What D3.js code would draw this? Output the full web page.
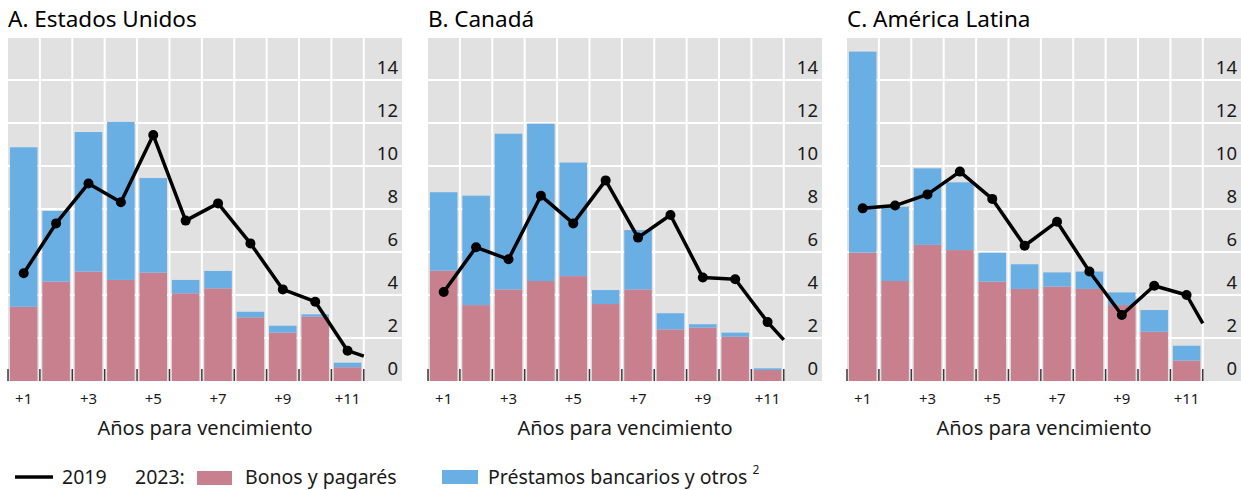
<!DOCTYPE html>
<html>
<head>
<meta charset="utf-8">
<script src="https://cdn.jsdelivr.net/npm/d3@7"></script>
<style>
  html, body { margin: 0; padding: 0; background: #ffffff; }
  svg { display: block; font-family: "Noto Sans", "Open Sans", sans-serif; }
</style>
</head>
<body>
<svg id="chart" width="1241" height="490"></svg>
<script>
// ---- Data ----
const categories = ["+1","+2","+3","+4","+5","+6","+7","+8","+9","+10","+11"];
const tickLabels = ["+1","+3","+5","+7","+9","+11"];
const yTicks = [0, 2, 4, 6, 8, 10, 12, 14];
const panelTitles = ["A. Estados Unidos", "B. Canadá", "C. América Latina"];
const xAxisTitle = "Años para vencimiento";

// 2023: Bonos y pagarés
const bondsUS = [3.45, 4.62, 5.09, 4.70, 5.04, 4.08, 4.31, 2.96, 2.25, 2.99, 0.64];
const bondsCA = [5.13, 3.53, 4.26, 4.65, 4.88, 3.58, 4.26, 2.40, 2.48, 2.06, 0.51];
const bondsLA = [5.97, 4.65, 6.33, 6.09, 4.62, 4.28, 4.39, 4.28, 3.53, 2.29, 0.95];
// 2023: Préstamos bancarios y otros (stacked on top of bonds)
const loansUS = [7.42, 3.29, 6.49, 7.35, 4.40, 0.62, 0.81, 0.26, 0.32, 0.11, 0.21];
const loansCA = [3.65, 5.09, 7.24, 7.32, 5.28, 0.65, 2.76, 0.75, 0.16, 0.19, 0.08];
const loansLA = [9.35, 3.46, 3.56, 3.15, 1.35, 1.15, 0.66, 0.81, 0.59, 1.01, 0.69];
// 2019 line (11 category points plus the end point half a step beyond +11)
const lineYears = [1, 2, 3, 4, 5, 6, 7, 8, 9, 10, 11, 11.5];
const line2019US = [5.01, 7.33, 9.19, 8.31, 11.44, 7.46, 8.26, 6.40, 4.26, 3.69, 1.41, 1.16];
const line2019CA = [4.14, 6.22, 5.66, 8.62, 7.33, 9.33, 6.67, 7.72, 4.81, 4.73, 2.74, 1.91];
const line2019LA = [8.03, 8.16, 8.68, 9.74, 8.47, 6.29, 7.41, 5.09, 3.07, 4.43, 4.00, 2.68];

const legendLabels = ["2019", "2023:", "Bonos y pagarés", "Préstamos bancarios y otros"];

// ---- Style ----
const colBonds = "#c8808f";
const colLoans = "#6aafe4";
const colBg = "#e1e1e1";

const panels = [
  { title: panelTitles[0], bonds: bondsUS, loans: loansUS, line: line2019US, left: 8 },
  { title: panelTitles[1], bonds: bondsCA, loans: loansCA, line: line2019CA, left: 428 },
  { title: panelTitles[2], bonds: bondsLA, loans: loansLA, line: line2019LA, left: 847 }
];

const plotW = 394, plotTop = 37, plotBottom = 381;
const step = 32.3;
const svg = d3.select("#chart");

panels.forEach(p => {
  const g = svg.append("g").attr("transform", `translate(${p.left},0)`);

  const x = d3.scaleBand().domain(categories)
    .range([0, step * categories.length]).paddingInner(0.15).paddingOuter(0.06);
  const y = d3.scaleLinear().domain([0, 16]).range([plotBottom, plotTop]);
  const xLin = d3.scaleLinear().domain([1, 11])
    .range([x(categories[0]) + x.bandwidth() / 2, x(categories[10]) + x.bandwidth() / 2]);

  // background
  g.append("rect").attr("x", 0).attr("y", plotTop)
    .attr("width", plotW).attr("height", plotBottom - plotTop).attr("fill", colBg);

  // horizontal grid
  g.selectAll("line.hg").data(yTicks.concat([16]).filter(v => v > 0)).enter().append("line")
    .attr("x1", 0).attr("x2", plotW)
    .attr("y1", d => y(d)).attr("y2", d => y(d))
    .attr("stroke", "#ffffff").attr("stroke-width", 2);

  // vertical grid at band boundaries
  const bounds = categories.map(c => x(c) - x.step() * x.paddingInner() / 2 + x.step());
  g.selectAll("line.vg").data(bounds).enter().append("line")
    .attr("x1", d => d).attr("x2", d => d)
    .attr("y1", plotTop).attr("y2", plotBottom)
    .attr("stroke", "#ffffff").attr("stroke-width", 2);

  // bars: bonds
  g.selectAll("rect.b").data(p.bonds).enter().append("rect")
    .attr("x", (d, i) => x(categories[i]))
    .attr("width", x.bandwidth())
    .attr("y", d => y(d))
    .attr("height", d => y(0) - y(d))
    .attr("fill", colBonds);
  // bars: loans stacked
  g.selectAll("rect.l").data(p.loans).enter().append("rect")
    .attr("x", (d, i) => x(categories[i]))
    .attr("width", x.bandwidth())
    .attr("y", (d, i) => y(p.bonds[i] + d))
    .attr("height", (d, i) => y(p.bonds[i]) - y(p.bonds[i] + d))
    .attr("fill", colLoans);

  // bottom tick marks
  const tickPos = [0].concat(bounds);
  g.selectAll("line.tk").data(tickPos).enter().append("line")
    .attr("x1", d => d).attr("x2", d => d)
    .attr("y1", plotBottom - 12).attr("y2", plotBottom)
    .attr("stroke", "#3a3a3a").attr("stroke-width", 1.5);

  // y labels (right side, inside)
  g.selectAll("text.yl").data(yTicks).enter().append("text")
    .attr("x", plotW - 4).attr("y", d => y(d) - 6)
    .attr("text-anchor", "end").attr("font-size", 18.5).attr("fill", "#1a1a1a")
    .text(d => d);

  // 2019 line
  const pts = p.line.map((v, i) => [xLin(lineYears[i]), y(v)]);
  g.append("path").attr("d", d3.line()(pts))
    .attr("fill", "none").attr("stroke", "#000").attr("stroke-width", 3.5)
    .attr("stroke-linejoin", "round");
  g.selectAll("circle.pt").data(pts.slice(0, 11)).enter().append("circle")
    .attr("cx", d => d[0]).attr("cy", d => d[1]).attr("r", 5).attr("fill", "#000");

  // x tick labels
  g.selectAll("text.xl").data(tickLabels).enter().append("text")
    .attr("x", d => x(d) + x.bandwidth() / 2).attr("y", 404)
    .attr("text-anchor", "middle").attr("font-size", 15).attr("fill", "#1a1a1a")
    .text(d => d);

  // axis title
  g.append("text").attr("x", plotW / 2).attr("y", 435)
    .attr("text-anchor", "middle").attr("font-size", 20).attr("fill", "#1a1a1a")
    .text(xAxisTitle);

  // panel title
  g.append("text").attr("x", 0).attr("y", 27)
    .attr("font-size", 22.5).attr("fill", "#000")
    .text(p.title);
});

// ---- Legend ----
const lg = svg.append("g");
const fs = 19.5;
lg.append("line").attr("x1", 15).attr("x2", 53).attr("y1", 477).attr("y2", 477)
  .attr("stroke", "#000").attr("stroke-width", 3.5);
lg.append("text").attr("x", 62).attr("y", 484).attr("font-size", fs).attr("fill", "#1a1a1a").text(legendLabels[0]);
lg.append("text").attr("x", 135).attr("y", 484).attr("font-size", fs).attr("fill", "#1a1a1a").text(legendLabels[1]);
lg.append("rect").attr("x", 197).attr("y", 471).attr("width", 35).attr("height", 14).attr("fill", colBonds);
lg.append("text").attr("x", 245).attr("y", 484).attr("font-size", fs).attr("fill", "#1a1a1a").text(legendLabels[2]);
lg.append("rect").attr("x", 442).attr("y", 470).attr("width", 36).attr("height", 14).attr("fill", colLoans);
const t4 = lg.append("text").attr("x", 488).attr("y", 484).attr("font-size", fs).attr("fill", "#1a1a1a");
t4.append("tspan").text(legendLabels[3] + " ");
t4.append("tspan").attr("font-size", 12).attr("dy", -10).text("2");
</script>
</body>
</html>
